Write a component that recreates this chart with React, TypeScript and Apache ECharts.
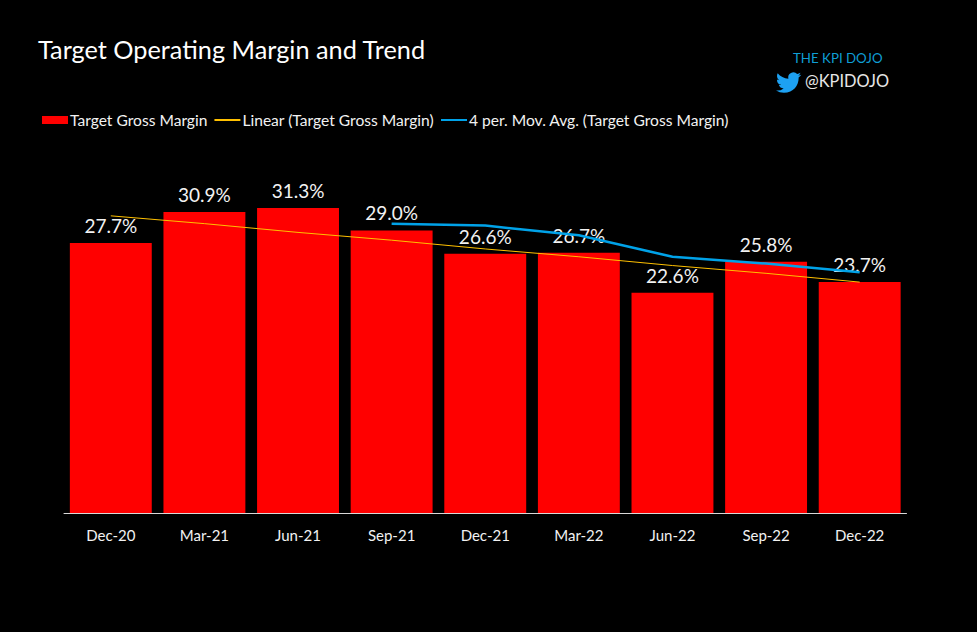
import React, { useEffect, useRef } from "react";
import * as echarts from "echarts";

const categories = ["Dec-20", "Mar-21", "Jun-21", "Sep-21", "Dec-21", "Mar-22", "Jun-22", "Sep-22", "Dec-22"];
const grossMargin = [27.7, 30.9, 31.3, 29.0, 26.6, 26.7, 22.6, 25.8, 23.7];
const linearTrend = [30.5, 29.7, 28.8, 28.0, 27.1, 26.3, 25.4, 24.6, 23.7];
const movingAvg = [null, null, null, 29.7, 29.5, 28.5, 26.3, 25.6, 24.7];

const NAMES = ["Target Gross Margin", "Linear (Target Gross Margin)", "4 per. Mov. Avg. (Target Gross Margin)"];
const FONT = "Lato";
const BIRD =
  "M23.953 4.57 a10 10 0 0 1 -2.825 .775 a4.958 4.958 0 0 0 2.163 -2.723 c-.951 .555 -2.005 .959 -3.127 1.184 a4.92 4.92 0 0 0 -8.384 4.482 C7.69 8.095 4.067 6.13 1.64 3.162 a4.822 4.822 0 0 0 -.666 2.475 c0 1.71 .87 3.213 2.188 4.096 a4.904 4.904 0 0 1 -2.228 -.616 v.06 a4.923 4.923 0 0 0 3.946 4.827 a4.996 4.996 0 0 1 -2.212 .085 a4.936 4.936 0 0 0 4.604 3.417 a9.867 9.867 0 0 1 -6.102 2.105 c-.39 0 -.779 -.023 -1.17 -.067 a13.995 13.995 0 0 0 7.557 2.209 c9.053 0 13.998 -7.496 13.998 -13.985 c0 -.21 0 -.42 -.015 -.63 A9.935 9.935 0 0 0 24 4.59 z";

echarts.graphic.registerShape("twbird", echarts.graphic.extendPath(BIRD as any, {}) as any);

export default function App() {
  const ref = useRef<HTMLDivElement>(null);
  useEffect(() => {
    const chart = echarts.init(ref.current!, null, { renderer: "svg" });
    chart.setOption({
      animation: false,
      backgroundColor: "#000000",
      textStyle: { fontFamily: FONT },
      title: {
        text: "Target Operating Margin and Trend",
        left: 38,
        top: 36,
        padding: 0,
        textStyle: { color: "#ffffff", fontSize: 25.3, fontWeight: "normal", fontFamily: FONT },
      },
      legend: {
        left: 42,
        top: 112,
        padding: 0,
        itemWidth: 26,
        itemHeight: 8,
        itemGap: 6,
        selectedMode: false,
        textStyle: { color: "#f2f2f2", fontSize: 15.6, fontFamily: FONT, padding: [0, 0, 0, -3] },
        data: [
          { name: NAMES[0], icon: "rect" },
          { name: NAMES[1], itemStyle: { opacity: 0 } },
          { name: NAMES[2], itemStyle: { opacity: 0 } },
        ],
      },
      grid: { left: 64, right: 70.5, top: 172, bottom: 119, containLabel: false },
      xAxis: {
        type: "category",
        data: categories,
        axisLine: { show: true, lineStyle: { color: "#d9d9d9", width: 1 } },
        axisTick: { show: false },
        axisLabel: { color: "#f2f2f2", fontSize: 15, fontFamily: FONT, margin: 14 },
      },
      yAxis: { type: "value", min: 0, max: 35, show: false, splitLine: { show: false } },
      series: [
        {
          name: NAMES[0],
          type: "bar",
          data: grossMargin,
          barWidth: "87.5%",
          itemStyle: { color: "#ff0000" },
          label: {
            show: true,
            position: "top",
            distance: 8,
            color: "#f2f2f2",
            fontSize: 19,
            fontFamily: FONT,
            formatter: (p: any) => p.value.toFixed(1) + "%",
          },
        },
        {
          name: NAMES[1],
          type: "line",
          data: linearTrend,
          symbol: "none",
          lineStyle: { color: "#ffc000", width: 1 },
          itemStyle: { color: "#ffc000" },
          z: 3,
        },
        {
          name: NAMES[2],
          type: "line",
          data: movingAvg,
          symbol: "none",
          lineStyle: { color: "#00a2e8", width: 2.5 },
          itemStyle: { color: "#00a2e8" },
          z: 3,
        },
      ],
      graphic: [
        {
          type: "text",
          x: 793,
          y: 51,
          style: { text: "THE KPI DOJO", fill: "#0f9ed5", fontSize: 13.3, fontFamily: FONT },
        },
        {
          type: "twbird",
          x: 776,
          y: 70,
          scaleX: 1.05,
          scaleY: 1.05,
          style: { fill: "#1da1f2" },
        },
        {
          type: "text",
          x: 805,
          y: 72,
          style: { text: "@KPIDOJO", fill: "#e6e6e6", fontSize: 16.4, fontFamily: FONT },
        },
      ],
    });
    return () => chart.dispose();
  }, []);
  return <div ref={ref} style={{ position: "fixed", left: 0, top: 0, width: 977, height: 632 }} />;
}
